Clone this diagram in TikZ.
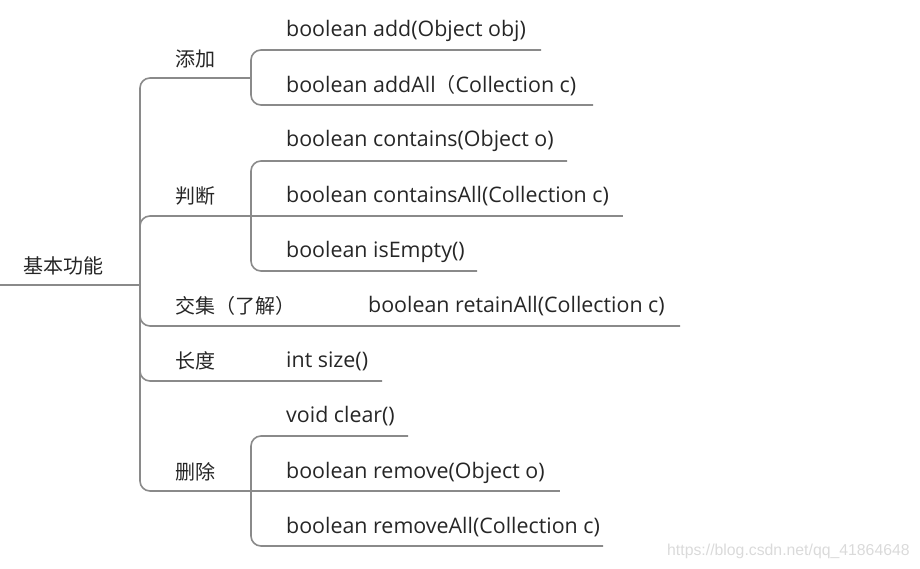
\documentclass[tikz,border=0pt]{standalone}
\usepackage{fontspec}
\setmainfont{Noto Sans CJK SC}
\newfontfamily\latinfont{Open Sans}
\newfontfamily\cjkfont{Noto Sans CJK SC}
\newfontfamily\wmfont{Liberation Sans}
\definecolor{linegray}{HTML}{8A8A8A}
\definecolor{txt}{HTML}{262626}
\definecolor{wm}{HTML}{DADADA}
\begin{document}
\begin{tikzpicture}[x=1pt,y=-1pt,
  lbl/.style={anchor=west,inner sep=0pt,text=txt,font=\fontsize{20}{24}\selectfont},
  code/.style={anchor=west,inner sep=0pt,text=txt,font=\latinfont\fontsize{21.4}{24}\selectfont},
  conn/.style={draw=linegray,line width=1.6pt,rounded corners=10pt}]
\useasboundingbox (0,0) rectangle (920,569);
% coordinates
\coordinate (r0) at (0,285);
\coordinate (r) at (140,285);
\coordinate (b1) at (251,78);
\coordinate (b2) at (251,216);
\coordinate (b3e) at (680,326);
\coordinate (b4e) at (382,381);
\coordinate (b5) at (251,491);
\coordinate (c11) at (541,50);
\coordinate (c12) at (593,105);
\coordinate (c21) at (567,161);
\coordinate (c22) at (623,216);
\coordinate (c23) at (477,271);
\coordinate (c51) at (408,436);
\coordinate (c52) at (560,491);
\coordinate (c53) at (603,546);
% texts
\node[lbl] (root) at (23,266) {基本功能};
\node[lbl] (n1) at (175,59) {添加};
\node[lbl] (n2) at (175,196) {判断};
\node[lbl] (n3) at (175,306) {交集（了解）};
\node[lbl] (n4) at (175,361) {长度};
\node[lbl] (n5) at (175,472) {删除};
\node[code] (t11) at (286,30.5) {boolean add(Object obj)};
\node[code] (t12) at (286,85.5) {boolean addAll{\cjkfont\fontsize{20}{24}\selectfont （}Collection c)};
\node[code] (t21) at (286,140.5) {boolean contains(Object o)};
\node[code] (t22) at (286,196.5) {boolean containsAll(Collection c)};
\node[code] (t23) at (286,251.5) {boolean isEmpty()};
\node[code] (t31) at (368,306.5) {boolean retainAll(Collection c)};
\node[code] (t41) at (286,361.5) {int size()};
\node[code] (t51) at (286,416.5) {void clear()};
\node[code] (t52) at (286,472.5) {boolean remove(Object o)};
\node[code] (t53) at (286,527.5) {boolean removeAll(Collection c)};
\node[anchor=west,inner sep=0pt,text=wm,font=\wmfont\fontsize{15.8}{17}\selectfont] (wmk) at (667,551) {https://blog.csdn.net/qq\_41864648};
% connectors
\draw[conn] (r0) -- (r);
\draw[conn] (r) |- (b1);
\draw[conn] (r) |- (b2);
\draw[conn] (r) |- (b3e);
\draw[conn] (r) |- (b4e);
\draw[conn] (r) |- (b5);
\draw[conn] (b1) |- (c11);
\draw[conn] (b1) |- (c12);
\draw[conn] (b2) |- (c21);
\draw[conn] (b2) -- (c22);
\draw[conn] (b2) |- (c23);
\draw[conn] (b5) |- (c51);
\draw[conn] (b5) -- (c52);
\draw[conn] (b5) |- (c53);
\end{tikzpicture}
\end{document}
